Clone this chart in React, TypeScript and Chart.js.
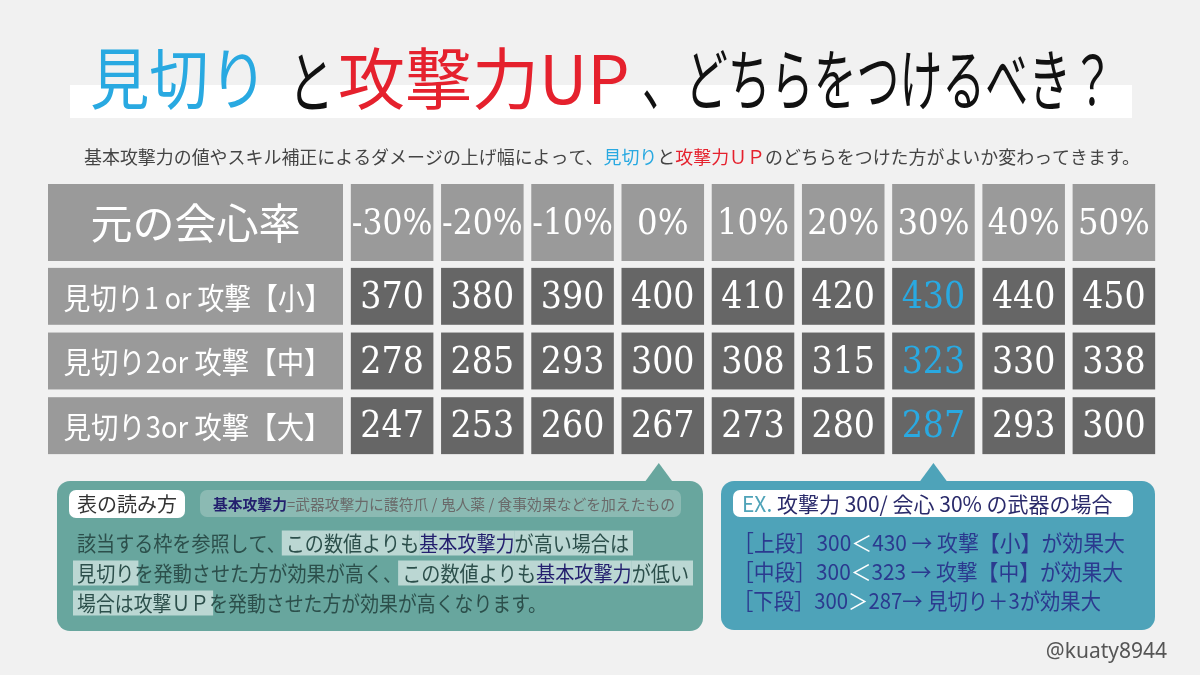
import React, { useEffect, useRef } from 'react';
import { Chart, registerables } from 'chart.js';

Chart.register(...registerables);

// ---------- data ----------
const cornerLabel = '元の会心率';
const critColumns = ['-30%', '-20%', '-10%', '0%', '10%', '20%', '30%', '40%', '50%'];
const rowLabels = ['見切り1 or 攻撃【小】', '見切り2or 攻撃【中】', '見切り3or 攻撃【大】'];
const smallValues = [370, 380, 390, 400, 410, 420, 430, 440, 450];
const mediumValues = [278, 285, 293, 300, 308, 315, 323, 330, 338];
const largeValues = [247, 253, 260, 267, 273, 280, 287, 293, 300];
const highlightColumn = '30%';
const leftPointerColumn = '0%';
const rightPointerColumn = '30%';
const rowValues = [smallValues, mediumValues, largeValues];

// ---------- styles ----------
const BG = '#f1f1f1';
const HEAD = '#9a9a9a';
const CELL = '#666666';
const BLUE = '#29a9e1';
const RED = '#e5212d';
const JP = '"Noto Sans CJK JP", "Noto Sans", sans-serif';
const SERIF = '"DejaVu Serif Condensed", "Liberation Serif", serif';

type Seg = { t: string; c: string; f?: string; bg?: string };

function rr(ctx: CanvasRenderingContext2D, x: number, y: number, w: number, h: number, r: number) {
  ctx.beginPath();
  ctx.moveTo(x + r, y);
  ctx.arcTo(x + w, y, x + w, y + h, r);
  ctx.arcTo(x + w, y + h, x, y + h, r);
  ctx.arcTo(x, y + h, x, y, r);
  ctx.arcTo(x, y, x + w, y, r);
  ctx.closePath();
}

function drawRich(
  ctx: CanvasRenderingContext2D,
  segs: Seg[],
  x: number,
  y: number,
  font: string,
  maxW?: number,
  bgH = 25,
  bgPad = 4
) {
  const widths = segs.map((s) => {
    ctx.font = s.f || font;
    return ctx.measureText(s.t).width;
  });
  const total = widths.reduce((a, b) => a + b, 0);
  const sx = maxW && total > maxW ? maxW / total : 1;
  ctx.save();
  ctx.translate(x, y);
  ctx.scale(sx, 1);
  let cx = 0;
  segs.forEach((s, i) => {
    if (s.bg) {
      ctx.fillStyle = s.bg;
      const prevBg = i > 0 && segs[i - 1].bg;
      const nextBg = i < segs.length - 1 && segs[i + 1].bg;
      const l = prevBg ? cx : cx - bgPad / sx;
      const r = nextBg ? cx + widths[i] : cx + widths[i] + bgPad / sx;
      ctx.fillRect(l, -bgH / 2, r - l, bgH);
    }
    cx += widths[i];
  });
  cx = 0;
  ctx.textBaseline = 'middle';
  ctx.textAlign = 'left';
  segs.forEach((s, i) => {
    ctx.font = s.f || font;
    ctx.fillStyle = s.c;
    ctx.fillText(s.t, cx, 0);
    cx += widths[i];
  });
  ctx.restore();
}

function drawCallout(ctx: CanvasRenderingContext2D, x: number, y: number, w: number, h: number, apexX: number, color: string) {
  ctx.fillStyle = color;
  rr(ctx, x, y, w, h, 13);
  ctx.fill();
  ctx.beginPath();
  ctx.moveTo(apexX - 14, y + 1);
  ctx.lineTo(apexX, y - 18);
  ctx.lineTo(apexX + 14, y + 1);
  ctx.closePath();
  ctx.fill();
}

const infographicPlugin = {
  id: 'infographic',
  beforeDraw(chart: any) {
    const ctx: CanvasRenderingContext2D = chart.ctx;
    const xs = chart.scales.x;
    ctx.save();
    ctx.fillStyle = BG;
    ctx.fillRect(0, 0, chart.width, chart.height);

    // title band
    ctx.fillStyle = '#ffffff';
    ctx.fillRect(70, 85, 1062, 33);

    // title
    ctx.textBaseline = 'middle';
    ctx.textAlign = 'left';
    ctx.font = `400 67px ${JP}`;
    ctx.fillStyle = BLUE;
    ctx.fillText('見切り', 90, 79, 178);
    ctx.fillStyle = '#111111';
    ctx.fillText('と', 288, 82, 46);
    ctx.fillStyle = RED;
    ctx.fillText('攻撃力UP', 338, 79, 300);
    ctx.fillStyle = '#111111';
    ctx.fillText('、どちらをつけるべき？', 642, 80, 472);

    // subtitle
    drawRich(
      ctx,
      [
        { t: '基本攻撃力の値やスキル補正によるダメージの上げ幅によって、', c: '#444444' },
        { t: '見切り', c: BLUE },
        { t: 'と', c: '#444444' },
        { t: '攻撃力ＵＰ', c: RED },
        { t: 'のどちらをつけた方がよいか変わってきます。', c: '#444444' },
      ],
      84,
      157,
      `400 18px ${JP}`,
      1056
    );

    // left callout
    const leftApex = xs.getPixelForValue(critColumns.indexOf(leftPointerColumn));
    drawCallout(ctx, 57, 481, 646, 150, leftApex - 4, '#68a69e');
    ctx.fillStyle = '#ffffff';
    rr(ctx, 69, 490, 116, 28, 7);
    ctx.fill();
    ctx.fillStyle = '#333333';
    ctx.font = `400 20px ${JP}`;
    ctx.textAlign = 'center';
    ctx.textBaseline = 'middle';
    ctx.fillText('表の読み方', 127, 504, 104);
    ctx.fillStyle = '#8bbab3';
    rr(ctx, 200, 490, 481, 27, 7);
    ctx.fill();
    drawRich(
      ctx,
      [
        { t: '基本攻撃力', c: '#231f6e', f: `700 15px ${JP}` },
        { t: '=武器攻撃力に護符爪 / 鬼人薬 / 食事効果などを加えたもの', c: '#6a6a6a' },
      ],
      213,
      504,
      `400 15px ${JP}`,
      462
    );
    const HL = 'rgba(255,255,255,0.55)';
    const TXT = '#2c4f4b';
    const NAVY = '#231f6e';
    const bodyFont = `400 21px ${JP}`;
    drawRich(
      ctx,
      [
        { t: '該当する枠を参照して、', c: TXT },
        { t: 'この数値よりも', c: TXT, bg: HL },
        { t: '基本攻撃力', c: NAVY, bg: HL },
        { t: 'が高い場合は', c: TXT, bg: HL },
      ],
      77,
      543,
      bodyFont,
      552
    );
    drawRich(
      ctx,
      [
        { t: '見切り', c: TXT, bg: HL },
        { t: 'を発動させた方が効果が高く、', c: TXT },
        { t: 'この数値よりも', c: TXT, bg: HL },
        { t: '基本攻撃力', c: NAVY, bg: HL },
        { t: 'が低い', c: TXT, bg: HL },
      ],
      77,
      573,
      bodyFont,
      612
    );
    drawRich(
      ctx,
      [
        { t: '場合は攻撃ＵＰ', c: TXT, bg: HL },
        { t: 'を発動させた方が効果が高くなります。', c: TXT },
      ],
      77,
      603,
      bodyFont,
      470
    );

    // right callout
    const rightApex = xs.getPixelForValue(critColumns.indexOf(rightPointerColumn));
    drawCallout(ctx, 721, 481, 434, 149, rightApex, '#4ea3b9');
    ctx.fillStyle = '#ffffff';
    rr(ctx, 733, 490, 400, 27, 7);
    ctx.fill();
    drawRich(
      ctx,
      [
        { t: 'EX. ', c: '#4fa3b8' },
        { t: '攻撃力 300/ 会心 30% の武器の場合', c: '#2a2a6a' },
      ],
      742,
      504,
      `400 21px ${JP}`,
      382
    );
    const NB = '#2b3a8f';
    const exFont = `400 22px ${JP}`;
    drawRich(
      ctx,
      [
        { t: '［上段］300', c: NB },
        { t: '＜', c: '#ffffff' },
        { t: '430 → 攻撃【小】が効果大', c: NB },
      ],
      733,
      543,
      exFont,
      392
    );
    drawRich(
      ctx,
      [
        { t: '［中段］300', c: NB },
        { t: '＜', c: '#ffffff' },
        { t: '323 → 攻撃【中】が効果大', c: NB },
      ],
      733,
      572,
      exFont,
      390
    );
    drawRich(
      ctx,
      [
        { t: '［下段］300', c: NB },
        { t: '＞', c: '#ffffff' },
        { t: '287→ 見切り＋3が効果大', c: NB },
      ],
      733,
      601,
      exFont,
      368
    );

    // credit
    ctx.fillStyle = '#555555';
    ctx.font = `400 21px "Noto Sans", sans-serif`;
    ctx.textAlign = 'right';
    ctx.textBaseline = 'middle';
    ctx.fillText('@kuaty8944', 1167, 652);
    ctx.restore();
  },
  afterDatasetsDraw(chart: any) {
    const ctx: CanvasRenderingContext2D = chart.ctx;
    const xs = chart.scales.x;
    const ys = chart.scales.y;
    const colPitch = (xs.right - xs.left) / critColumns.length;
    const rowPitch = (ys.bottom - ys.top) / rowLabels.length;
    const cw = colPitch * 0.915;
    const ch = rowPitch * 0.88;
    const headTop = 184;
    const headH = 77;
    const labelLeft = 48;
    const labelRight = 343;
    ctx.save();
    ctx.textAlign = 'center';
    ctx.textBaseline = 'middle';

    // corner
    ctx.fillStyle = HEAD;
    ctx.fillRect(labelLeft, headTop, labelRight - labelLeft, headH);
    ctx.fillStyle = '#ffffff';
    ctx.font = `400 42px ${JP}`;
    ctx.fillText(cornerLabel, (labelLeft + labelRight) / 2, headTop + headH / 2 + 1);

    // header row
    critColumns.forEach((c, i) => {
      const cx = xs.getPixelForValue(i);
      ctx.fillStyle = HEAD;
      ctx.fillRect(cx - cw / 2, headTop, cw, headH);
      ctx.fillStyle = '#ffffff';
      ctx.font = `400 36px ${SERIF}`;
      ctx.fillText(c, cx, headTop + headH / 2 + 2, cw - 2);
    });

    // row labels
    rowLabels.forEach((r, i) => {
      const cy = ys.getPixelForValue(i);
      ctx.fillStyle = HEAD;
      ctx.fillRect(labelLeft, cy - ch / 2, labelRight - labelLeft, ch);
      ctx.fillStyle = '#ffffff';
      ctx.font = `400 30px ${JP}`;
      ctx.fillText(r, (labelLeft + labelRight) / 2 + 2, cy + 1, 268);
    });

    // value cells
    const meta = chart.getDatasetMeta(0);
    meta.data.forEach((el: any, i: number) => {
      const raw: any = chart.data.datasets[0].data[i];
      ctx.fillStyle = CELL;
      ctx.fillRect(el.x - cw / 2, el.y - ch / 2, cw, ch);
      ctx.fillStyle = raw.x === highlightColumn ? BLUE : '#ffffff';
      ctx.font = `400 37px ${SERIF}`;
      ctx.fillText(String(raw.v), el.x, el.y + 2);
    });
    ctx.restore();
  },
};

export default function App() {
  const ref = useRef<HTMLCanvasElement>(null);
  useEffect(() => {
    if (!ref.current) return;
    const points = rowLabels.flatMap((r, ri) =>
      critColumns.map((c, ci) => ({ x: c, y: r, v: rowValues[ri][ci] }))
    );
    const chart = new Chart(ref.current, {
      type: 'scatter',
      data: {
        datasets: [
          {
            data: points as any,
            pointRadius: 0,
            pointHoverRadius: 0,
          },
        ],
      },
      options: {
        animation: false,
        responsive: false,
        devicePixelRatio: 1,
        events: [],
        layout: { padding: { left: 347, right: 41, top: 264, bottom: 217 } },
        plugins: { legend: { display: false }, tooltip: { enabled: false }, title: { display: false } },
        scales: {
          x: { type: 'category', labels: critColumns, offset: true, display: false },
          y: { type: 'category', labels: rowLabels, offset: true, display: false },
        },
      },
      plugins: [infographicPlugin],
    });
    return () => chart.destroy();
  }, []);
  return (
    <div style={{ position: 'fixed', left: 0, top: 0, width: 1200, height: 675 }}>
      <canvas ref={ref} width={1200} height={675} style={{ display: 'block', width: 1200, height: 675 }} />
    </div>
  );
}
